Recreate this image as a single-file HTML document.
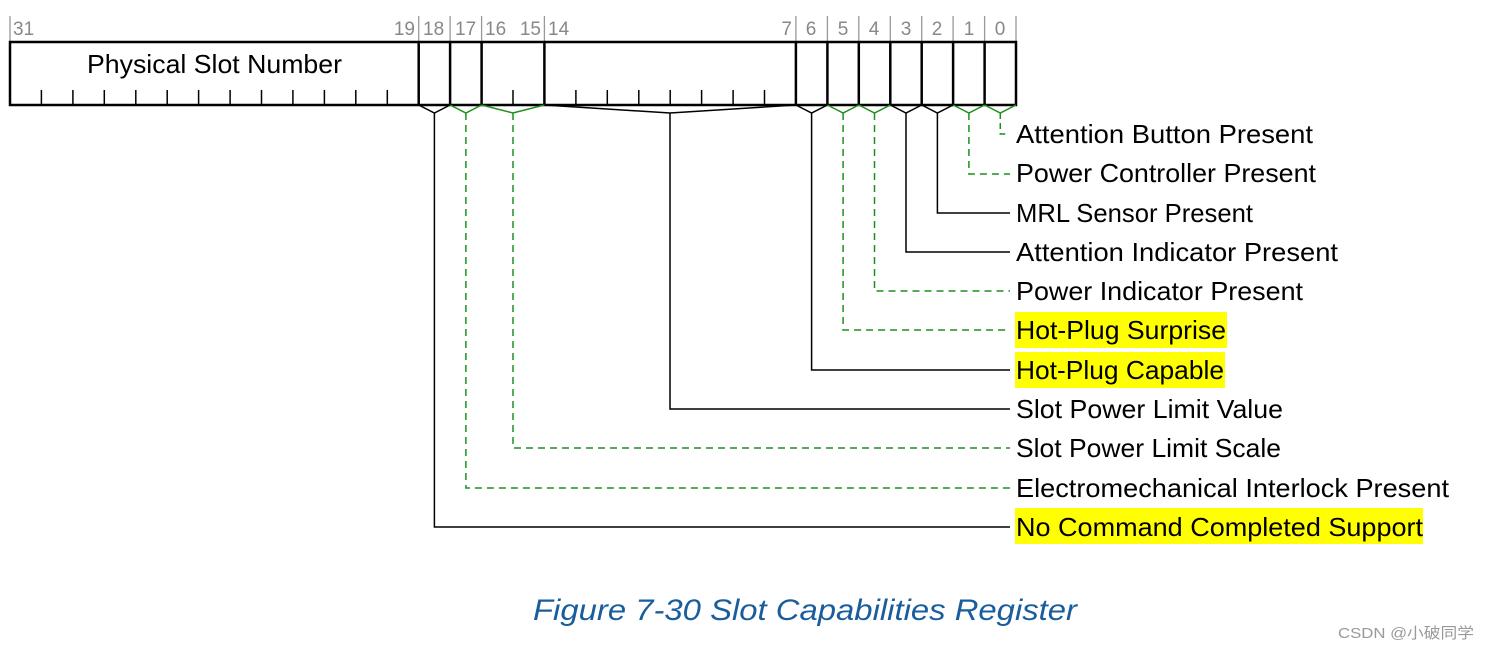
<!DOCTYPE html>
<html><head><meta charset="utf-8"><style>
html,body{margin:0;padding:0;background:#fff;}
svg{display:block;font-family:"Liberation Sans",sans-serif;}
</style></head><body>
<svg width="1490" height="650" viewBox="0 0 1490 650" xmlns="http://www.w3.org/2000/svg">
<g stroke="#999" stroke-width="1.3">
<line x1="10" y1="16" x2="10" y2="42"/>
<line x1="418.7" y1="16" x2="418.7" y2="42"/>
<line x1="450.1" y1="16" x2="450.1" y2="42"/>
<line x1="481.6" y1="16" x2="481.6" y2="42"/>
<line x1="544.4" y1="16" x2="544.4" y2="42"/>
<line x1="795.9" y1="16" x2="795.9" y2="42"/>
<line x1="827.4" y1="16" x2="827.4" y2="42"/>
<line x1="858.8" y1="16" x2="858.8" y2="42"/>
<line x1="890.3" y1="16" x2="890.3" y2="42"/>
<line x1="921.7" y1="16" x2="921.7" y2="42"/>
<line x1="953.1" y1="16" x2="953.1" y2="42"/>
<line x1="984.6" y1="16" x2="984.6" y2="42"/>
<line x1="1016" y1="16" x2="1016" y2="42"/>
</g>
<g fill="#888" font-size="19">
<text x="13" y="35">31</text>
<text x="415" y="35" text-anchor="end">19</text>
<text x="423" y="35">18</text>
<text x="455" y="35">17</text>
<text x="485" y="35">16</text>
<text x="541" y="35" text-anchor="end">15</text>
<text x="548" y="35">14</text>
<text x="792" y="35" text-anchor="end">7</text>
<text x="811" y="35" text-anchor="middle">6</text>
<text x="843" y="35" text-anchor="middle">5</text>
<text x="874" y="35" text-anchor="middle">4</text>
<text x="906" y="35" text-anchor="middle">3</text>
<text x="937" y="35" text-anchor="middle">2</text>
<text x="969" y="35" text-anchor="middle">1</text>
<text x="1000" y="35" text-anchor="middle">0</text>
</g>
<rect x="10" y="42" width="1006" height="63" fill="none" stroke="#000" stroke-width="2.5"/>
<g stroke="#000" stroke-width="2.5">
<line x1="418.7" y1="42" x2="418.7" y2="105"/>
<line x1="450.1" y1="42" x2="450.1" y2="105"/>
<line x1="481.6" y1="42" x2="481.6" y2="105"/>
<line x1="544.4" y1="42" x2="544.4" y2="105"/>
<line x1="795.9" y1="42" x2="795.9" y2="105"/>
<line x1="827.4" y1="42" x2="827.4" y2="105"/>
<line x1="858.8" y1="42" x2="858.8" y2="105"/>
<line x1="890.3" y1="42" x2="890.3" y2="105"/>
<line x1="921.7" y1="42" x2="921.7" y2="105"/>
<line x1="953.1" y1="42" x2="953.1" y2="105"/>
<line x1="984.6" y1="42" x2="984.6" y2="105"/>
</g>
<g stroke="#000" stroke-width="1.5">
<line x1="41.4" y1="90" x2="41.4" y2="105"/><line x1="72.9" y1="90" x2="72.9" y2="105"/>
<line x1="104.3" y1="90" x2="104.3" y2="105"/><line x1="135.8" y1="90" x2="135.8" y2="105"/>
<line x1="167.2" y1="90" x2="167.2" y2="105"/><line x1="198.6" y1="90" x2="198.6" y2="105"/>
<line x1="230.1" y1="90" x2="230.1" y2="105"/><line x1="261.5" y1="90" x2="261.5" y2="105"/>
<line x1="292.9" y1="90" x2="292.9" y2="105"/><line x1="324.4" y1="90" x2="324.4" y2="105"/>
<line x1="355.8" y1="90" x2="355.8" y2="105"/><line x1="387.3" y1="90" x2="387.3" y2="105"/>
<line x1="513" y1="90" x2="513" y2="105"/>
<line x1="575.9" y1="90" x2="575.9" y2="105"/><line x1="607.3" y1="90" x2="607.3" y2="105"/>
<line x1="638.8" y1="90" x2="638.8" y2="105"/><line x1="670.2" y1="90" x2="670.2" y2="105"/>
<line x1="701.6" y1="90" x2="701.6" y2="105"/><line x1="733.1" y1="90" x2="733.1" y2="105"/>
<line x1="764.5" y1="90" x2="764.5" y2="105"/>
</g>
<text x="87" y="73" font-size="26" textLength="255" lengthAdjust="spacingAndGlyphs">Physical Slot Number</text>
<rect x="1015" y="312" width="212" height="36" fill="#ffff00"/>
<rect x="1015" y="352" width="210" height="36" fill="#ffff00"/>
<rect x="1015" y="508" width="408" height="36" fill="#ffff00"/>
<g fill="none" stroke="#000" stroke-width="1.5">
<path d="M418.7 105 L434.4 113 L450.1 105 M434.4 113 V527 H1010"/>
<path d="M544.4 105 L670 113 L795.9 105 M670 113 V409 H1010"/>
<path d="M795.9 105 L811.6 113 L827.4 105 M811.6 113 V370 H1010"/>
<path d="M890.3 105 L906 113 L921.7 105 M906 113 V252 H1010"/>
<path d="M921.7 105 L937.4 113 L953.1 105 M937.4 113 V213 H1010"/>
</g>
<g fill="none" stroke="#1e901e" stroke-width="1.5">
<path d="M450.1 105 L465.9 113 L481.6 105"/>
<path d="M481.6 105 L513 113 L544.4 105"/>
<path d="M827.4 105 L843.1 113 L858.8 105"/>
<path d="M858.8 105 L874.5 113 L890.3 105"/>
<path d="M953.1 105 L968.9 113 L984.6 105"/>
<path d="M984.6 105 L1000.3 113 L1016 105"/>
</g>
<g fill="none" stroke="#1e901e" stroke-width="1.5" stroke-dasharray="7,5">
<path d="M465.9 113 V488 H1010"/>
<path d="M513 113 V448 H1010"/>
<path d="M843.1 113 V330 H1010"/>
<path d="M874.5 113 V291 H1010"/>
<path d="M968.9 113 V174 H1010"/>
<path d="M1000.3 113 V134 H1008" stroke-dasharray="6,4"/>
</g>
<g font-size="26" fill="#000">
<text x="1016" y="143" textLength="297" lengthAdjust="spacingAndGlyphs">Attention Button Present</text>
<text x="1016" y="182" textLength="300" lengthAdjust="spacingAndGlyphs">Power Controller Present</text>
<text x="1016" y="222" textLength="237" lengthAdjust="spacingAndGlyphs">MRL Sensor Present</text>
<text x="1016" y="261" textLength="322" lengthAdjust="spacingAndGlyphs">Attention Indicator Present</text>
<text x="1016" y="300" textLength="287" lengthAdjust="spacingAndGlyphs">Power Indicator Present</text>
<text x="1016" y="339" textLength="210" lengthAdjust="spacingAndGlyphs">Hot-Plug Surprise</text>
<text x="1016" y="379" textLength="208" lengthAdjust="spacingAndGlyphs">Hot-Plug Capable</text>
<text x="1016" y="418" textLength="267" lengthAdjust="spacingAndGlyphs">Slot Power Limit Value</text>
<text x="1016" y="457" textLength="265" lengthAdjust="spacingAndGlyphs">Slot Power Limit Scale</text>
<text x="1016" y="497" textLength="433" lengthAdjust="spacingAndGlyphs">Electromechanical Interlock Present</text>
<text x="1016" y="536" textLength="407" lengthAdjust="spacingAndGlyphs">No Command Completed Support</text>
</g>
<text x="533" y="620" font-size="30" font-style="italic" fill="#1a5d9c" textLength="544" lengthAdjust="spacingAndGlyphs">Figure  7-30  Slot Capabilities Register</text>
<text x="1338" y="638" font-size="15" fill="#999" font-family="'Liberation Sans','Noto Sans CJK SC',sans-serif" textLength="136" lengthAdjust="spacingAndGlyphs">CSDN @小破同学</text>
</svg>
</body></html>
